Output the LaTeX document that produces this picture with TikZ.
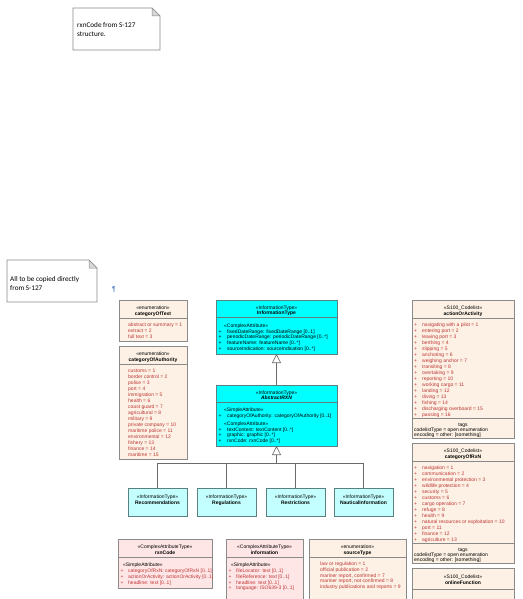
\documentclass[tikz,border=0pt]{standalone}
\usepackage{fontspec}
\setmainfont{Liberation Sans}
\newfontfamily\notefont{Carlito}
\usetikzlibrary{arrows.meta}
\definecolor{bordergray}{HTML}{8A8A8A}
\definecolor{linegray}{HTML}{6A6A6A}
\definecolor{enumfill}{HTML}{FCF1E4}
\definecolor{entred}{HTML}{BE3636}
\definecolor{cyanfill}{HTML}{00FFFF}
\definecolor{cyanborder}{HTML}{5A8080}
\definecolor{lcyan}{HTML}{C4FFFF}
\definecolor{pinkfill}{HTML}{FFE6E6}
\definecolor{foldgray}{HTML}{D8D8D8}
\definecolor{pilcrow}{HTML}{3A6FC0}
\newcommand\umlfs{\fontsize{5}{6}\selectfont}
\newcommand\notefs{\notefont\fontsize{7.2}{9}\selectfont}
\begin{document}
\begin{tikzpicture}[x=1pt,y=-1pt,
  box/.style={draw=bordergray, line width=0.5pt, anchor=north west, inner sep=0pt, outer sep=0pt},
  hd/.style={font=\umlfs, anchor=mid, inner sep=0pt, text=black},
  nm/.style={font=\umlfs\bfseries, anchor=mid, inner sep=0pt, text=black},
  lt/.style={font=\umlfs, anchor=mid west, inner sep=0pt, text=black},
  en/.style={lt, text=entred},
  pl/.style={font=\umlfs, anchor=mid, inner sep=0pt},
  sepl/.style={draw=bordergray, line width=0.5pt},
  gen/.style={draw=linegray, line width=0.6pt},
  notetxt/.style={font=\notefs, anchor=mid west, inner sep=0pt, text=black}]
\useasboundingbox (0,0) rectangle (522,599);
\clip (0,0) rectangle (522,599);
\fill[white] (0,0) rectangle (522,599);

% ---------- notes ----------
\draw[bordergray, line width=0.6pt, fill=white] (73,8) -- (152,8) -- (160,16) -- (160,50) -- (73,50) -- cycle;
\draw[bordergray, line width=0.5pt, fill=foldgray] (152,8) -- (152,16) -- (160,16) -- cycle;
\node[notetxt] (n1a) at (77,24.5) {rxnCode from S-127};
\node[notetxt] (n1b) at (77,33.5) {structure.};

\draw[bordergray, line width=0.6pt, fill=white] (7,260) -- (89,260) -- (97,268) -- (97,302) -- (7,302) -- cycle;
\draw[bordergray, line width=0.5pt, fill=foldgray] (89,260) -- (89,268) -- (97,268) -- cycle;
\node[notetxt] (n2a) at (10,279) {All to be copied directly};
\node[notetxt] (n2b) at (10,288) {from S-127};
\node[font=\fontsize{7}{8}\selectfont, text=pilcrow, inner sep=0pt] (pil) at (114,290) {¶};

% ---------- categoryOfText ----------
\node[box, fill=enumfill, minimum width=68pt, minimum height=41pt] (catText) at (119,300) {};
\node[hd] (catTextS) at (153,306.5) {«enumeration»};
\node[nm] (catTextN) at (153,312.5) {categoryOfText};
\draw[sepl] (119,318) -- (187,318);
\foreach \ent [count=\i from 0] in {abstract or summary = 1, extract = 2, full text = 3}
  {\node[en] (ct\i) at (128,324+6*\i) {\ent};}

% ---------- categoryOfAuthority ----------
\node[box, fill=enumfill, minimum width=68pt, minimum height=113pt] (catAuth) at (119,346) {};
\node[hd] (catAuthS) at (153,352.5) {«enumeration»};
\node[nm] (catAuthN) at (153,358.5) {categoryOfAuthority};
\draw[sepl] (119,364) -- (187,364);
\foreach \ent [count=\i from 0] in {customs = 1, border control = 2, police = 3, port = 4, immigration = 5, health = 6, coast guard = 7, agricultural = 8, military = 9, private company = 10, maritime police = 11, environmental = 12, fishery = 13, finance = 14, maritime = 15}
  {\node[en] (ca\i) at (128,370+6*\i) {\ent};}

% ---------- InformationType ----------
\node[box, draw=cyanborder, fill=cyanfill, minimum width=121pt, minimum height=54pt] (infoT) at (216,300) {};
\node[hd] (infoTS) at (276.5,306.5) {«InformationType»};
\node[nm] (infoTN) at (276.5,312) {InformationType};
\draw[sepl, draw=cyanborder] (216,317) -- (337,317);
\node[lt] (infoTC) at (224,324.5) {«ComplexAttribute»};
\foreach \ent [count=\i from 0] in {fixedDateRange: fixedDateRange [0..1], periodicDateRange: periodicDateRange [0..*], featureName: featureName [0..*], sourceIndication: sourceIndication [0..*]}
  {\node[pl] (itp\i) at (220,330.5+5.8*\i) {+}; \node[lt] (it\i) at (227,330.5+5.8*\i) {\ent};}

% ---------- AbstractRXN ----------
\node[box, draw=cyanborder, fill=cyanfill, minimum width=121pt, minimum height=61pt] (abs) at (216,385) {};
\node[hd] (absS) at (276.5,391.5) {«InformationType»};
\node[nm] (absN) at (276.5,397) {\itshape AbstractRXN};
\draw[sepl, draw=cyanborder] (216,402) -- (337,402);
\node[lt] (absSA) at (224,408.5) {«SimpleAttribute»};
\node[pl] (absp0) at (220,414.5) {+};
\node[lt] (absa0) at (227,414.5) {categoryOfAuthority: categoryOfAuthority [0..1]};
\node[lt] (absCA) at (224,422.5) {«ComplexAttribute»};
\foreach \ent [count=\i from 0] in {textContent: textContent [0..*], graphic: graphic [0..*], rxnCode: rxnCode [0..*]}
  {\node[pl] (abp\i) at (220,428.5+5.8*\i) {+}; \node[lt] (ab\i) at (227,428.5+5.8*\i) {\ent};}

\draw[gen, -{Triangle[open, length=9pt, width=9pt]}] (abs.north) -- (infoT.south);

% ---------- children ----------
\node[box, draw=cyanborder, fill=lcyan, minimum width=59pt, minimum height=28pt] (rec) at (128,488) {};
\node[box, draw=cyanborder, fill=lcyan, minimum width=59pt, minimum height=28pt] (reg) at (197,488) {};
\node[box, draw=cyanborder, fill=lcyan, minimum width=59pt, minimum height=28pt] (res) at (266,488) {};
\node[box, draw=cyanborder, fill=lcyan, minimum width=59pt, minimum height=28pt] (nau) at (334,488) {};
\node[hd] (recS) at (157.5,495.5) {«InformationType»};
\node[nm] (recN) at (157.5,501.5) {Recommendations};
\node[hd] (regS) at (226.5,495.5) {«InformationType»};
\node[nm] (regN) at (226.5,501.5) {Regulations};
\node[hd] (resS) at (295.5,495.5) {«InformationType»};
\node[nm] (resN) at (295.5,501.5) {Restrictions};
\node[hd] (nauS) at (363.5,495.5) {«InformationType»};
\node[nm] (nauN) at (363.5,501.5) {NauticalInformation};

\coordinate (jn) at (276.5,463);
\draw[gen] (rec.north) |- (jn);
\draw[gen] (reg.north) |- (jn);
\draw[gen] (res.north) |- (jn);
\draw[gen] (nau.north) |- (jn);
\draw[gen, -{Triangle[open, length=9pt, width=9pt]}] (jn) -- (abs.south);

% ---------- actionOrActivity ----------
\node[box, fill=enumfill, minimum width=102pt, minimum height=138pt] (aoa) at (412,300) {};
\node[hd] (aoaS) at (463,306.5) {«S100\_Codelist»};
\node[nm] (aoaN) at (463,312.5) {actionOrActivity};
\draw[sepl] (412,318) -- (514,318);
\foreach \ent [count=\i from 0] in {navigating with a pilot = 1, entering port = 2, leaving port = 3, berthing = 4, slipping = 5, anchoring = 6, weighing anchor = 7, transiting = 8, overtaking = 9, reporting = 10, working cargo = 11, landing = 12, diving = 13, fishing = 14, discharging overboard = 15, passing = 16}
  {\node[pl, text=entred] (aop\i) at (415.5,324+6*\i) {+}; \node[en] (ao\i) at (422,324+6*\i) {\ent};}
\draw[sepl] (412,418.5) -- (514,418.5);
\node[hd] (aoaT) at (463,423.5) {tags};
\node[lt] (aoaT1) at (414,428.5) {codelistType = open enumeration};
\node[lt] (aoaT2) at (414,433.5) {encoding = other: [something]};

% ---------- categoryOfRxN ----------
\node[box, fill=enumfill, minimum width=102pt, minimum height=120pt] (cor) at (412,443) {};
\node[hd] (corS) at (463,449.5) {«S100\_Codelist»};
\node[nm] (corN) at (463,455.5) {categoryOfRxN};
\draw[sepl] (412,461) -- (514,461);
\foreach \ent [count=\i from 0] in {navigation = 1, communication = 2, environmental protection = 3, wildlife protection = 4, security = 5, customs = 6, cargo operation = 7, refuge = 8, health = 9, natural resources or exploitation = 10, port = 11, finance = 12, agriculture = 13}
  {\node[pl, text=entred] (crp\i) at (415.5,466.5+6*\i) {+}; \node[en] (cr\i) at (422,466.5+6*\i) {\ent};}
\draw[sepl] (412,543.5) -- (514,543.5);
\node[hd] (corT) at (463,548.5) {tags};
\node[lt] (corT1) at (414,553.5) {codelistType = open enumeration};
\node[lt] (corT2) at (414,558.5) {encoding = other: [something]};

% ---------- onlineFunction ----------
\node[box, fill=enumfill, minimum width=102pt, minimum height=45pt] (olf) at (412,568) {};
\node[hd] (olfS) at (463,576) {«S100\_Codelist»};
\node[nm] (olfN) at (463,582) {onlineFunction};
\draw[sepl] (412,589) -- (514,589);

% ---------- rxnCode ----------
\node[box, fill=pinkfill, minimum width=94pt, minimum height=49pt] (rxn) at (118,539) {};
\node[hd] (rxnS) at (165,546) {«ComplexAttributeType»};
\node[nm] (rxnN) at (165,552) {rxnCode};
\draw[sepl] (118,557.5) -- (212,557.5);
\node[lt] (rxnSA) at (123,564) {«SimpleAttribute»};
\foreach \ent [count=\i from 0] in {categoryOfRxN: categoryOfRxN [0..1], actionOrActivity: actionOrActivity [0..1], headline: text [0..1]}
  {\node[pl, text=entred] (rxp\i) at (122,570+5.7*\i) {+}; \node[en] (rx\i) at (128,570+5.7*\i) {\ent};}

% ---------- information ----------
\node[box, fill=pinkfill, minimum width=77pt, minimum height=70pt] (inf) at (226,539) {};
\node[hd] (infS) at (264.5,546) {«ComplexAttributeType»};
\node[nm] (infN) at (264.5,552) {information};
\draw[sepl] (226,557.5) -- (303,557.5);
\node[lt] (infSA) at (231,564) {«SimpleAttribute»};
\foreach \ent [count=\i from 0] in {fileLocator: text [0..1], fileReference: text [0..1], headline: text [0..1], language: ISO639-3 [0..1]}
  {\node[pl, text=entred] (ifp\i) at (230,570+5.7*\i) {+}; \node[en] (if\i) at (236,570+5.7*\i) {\ent};}

% ---------- sourceType ----------
\node[box, fill=enumfill, minimum width=97pt, minimum height=70pt] (src) at (309,539) {};
\node[hd] (srcS) at (357.5,546) {«enumeration»};
\node[nm] (srcN) at (357.5,552) {sourceType};
\draw[sepl] (309,557.5) -- (406,557.5);
\foreach \ent [count=\i from 0] in {law or regulation = 1, official publication = 2, {mariner report, confirmed = 7}, {mariner report, not confirmed = 8}, industry publications and reports = 9}
  {\node[en] (sr\i) at (320,563+5.7*\i) {\ent};}
\end{tikzpicture}
\end{document}
